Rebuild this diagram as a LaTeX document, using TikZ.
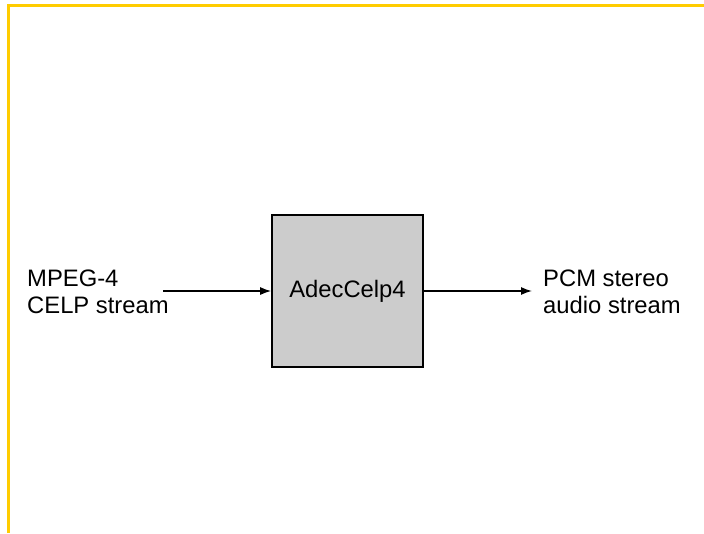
\documentclass[tikz,border=0pt]{standalone}
\usepackage{fontspec}
\setmainfont{Liberation Sans}
\usetikzlibrary{arrows.meta}
\definecolor{frameyellow}{HTML}{FFCC00}
\definecolor{boxgray}{HTML}{CCCCCC}
\tikzset{
  label text/.style={font=\fontsize{23.8}{27.3}\selectfont, align=left, inner sep=0pt},
  flow/.style={line width=1.4pt, -{Latex[length=11pt,width=8pt]}},
}

\begin{document}
\begin{tikzpicture}[x=1pt,y=-1pt]
  % \draw[help lines] (0,0) grid (704,533);
  \useasboundingbox (0,0) rectangle (704,533);

  \draw[frameyellow, line width=3pt] (8,533) -- (8,5) -- (704,5);

  \node[draw, line width=1.7pt, fill=boxgray, minimum width=151pt, minimum height=152pt,
        font=\fontsize{23.8}{27.3}\selectfont] (decoder) at (347.5,291) {AdecCelp4};

  \node[label text, anchor=west] (src) at (27,292) {MPEG-4\\CELP stream};
  \node[label text, anchor=west] (sink) at (543,292) {PCM stereo\\audio stream};

  \coordinate (inStart) at (163,291);
  \coordinate (outEnd) at (532,291);

  \draw[flow] (inStart) -- (decoder.west |- inStart);
  \draw[flow] (decoder.east |- outEnd) -- (outEnd);

\end{tikzpicture}
\end{document}
